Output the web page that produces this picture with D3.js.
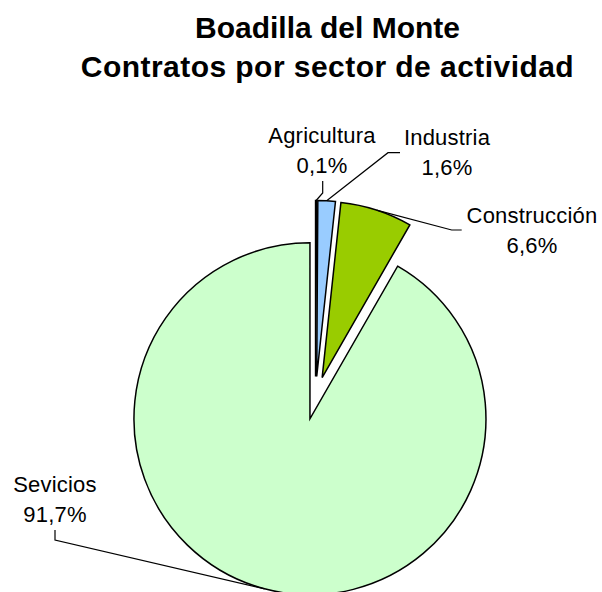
<!DOCTYPE html>
<html>
<head>
<meta charset="utf-8">
<script src="https://cdn.jsdelivr.net/npm/d3@7"></script>
<style>
  body { margin: 0; background: #fff; }
  svg { display: block; font-family: "Liberation Sans", Arial, sans-serif; }
</style>
</head>
<body>
<div id="chart"></div>
<script>
var sectores = ["Agricultura", "Industria", "Construcción", "Sevicios"];
var porcentajes = [0.1, 1.6, 6.6, 91.7];
var etiquetas = ["0,1%", "1,6%", "6,6%", "91,7%"];
var colores = ["#9999FF", "#99CCFF", "#99CC00", "#CCFFCC"];

document.addEventListener("DOMContentLoaded", function() {
    var width = 602, height = 592;
    var radius = 176, explode = 21.5;
    var cx = 315.5, cy = 398;

    var svg = d3.select("#chart").append("svg")
        .attr("width", width)
        .attr("height", height);

    // titulo
    var title = svg.append("text")
        .attr("text-anchor", "middle")
        .style("font-size", "30px")
        .style("font-weight", "bold");
    title.append("tspan").attr("x", 327.5).attr("y", 38).text("Boadilla del Monte");
    title.append("tspan").attr("x", 327.5).attr("y", 77)
        .style("letter-spacing", "0.45px")
        .text("Contratos por sector de actividad");

    var data = sectores.map(function(s, i) {
        return { name: s, value: porcentajes[i], label: etiquetas[i], color: colores[i] };
    });

    var pie = d3.pie()
        .sort(null)
        .value(function(d) { return d.value; });
    var arcs = pie(data);

    var arc = d3.arc().innerRadius(0).outerRadius(radius);

    function offset(d) {
        var a = (d.startAngle + d.endAngle) / 2;
        return [explode * Math.sin(a), -explode * Math.cos(a)];
    }

    var g = svg.append("g").attr("transform", "translate(" + cx + "," + cy + ")");

    g.selectAll("path")
        .data(arcs)
        .enter().append("path")
        .attr("transform", function(d) { return "translate(" + offset(d) + ")"; })
        .attr("d", arc)
        .style("fill", function(d) { return d.data.color; })
        .style("stroke", "#000")
        .style("stroke-width", 1.5)
        .style("stroke-linejoin", "miter");

    // posiciones de etiquetas (centro, linea base) y arranque de la linea guia
    var layout = [
        { x: 322, y: 143, line: [[322.7, 181], [322.7, 193]] },
        { x: 447, y: 145, line: [[400, 152.7], [388, 152.7]] },
        { x: 532, y: 223, line: [[461.7, 230], [451.7, 230]] },
        { x: 55, y: 492, line: [[55, 530], [55, 540]] }
    ];

    arcs.forEach(function(d, i) {
        var a = (d.startAngle + d.endAngle) / 2;
        var o = offset(d);
        var end = [cx + o[0] + radius * Math.sin(a), cy + o[1] - radius * Math.cos(a)];
        var pts = layout[i].line.concat([end]);
        svg.append("path")
            .attr("d", d3.line()(pts))
            .style("fill", "none")
            .style("stroke", "#000")
            .style("stroke-width", 1.2);

        var t = svg.append("text")
            .attr("text-anchor", "middle")
            .style("font-size", "22px")
            .style("letter-spacing", "0.2px")
            .style("fill", "#000");
        t.append("tspan").attr("x", layout[i].x).attr("y", layout[i].y).text(d.data.name);
        t.append("tspan").attr("x", layout[i].x).attr("y", layout[i].y + 30).text(d.data.label);
    });
});
</script>
</body>
</html>
